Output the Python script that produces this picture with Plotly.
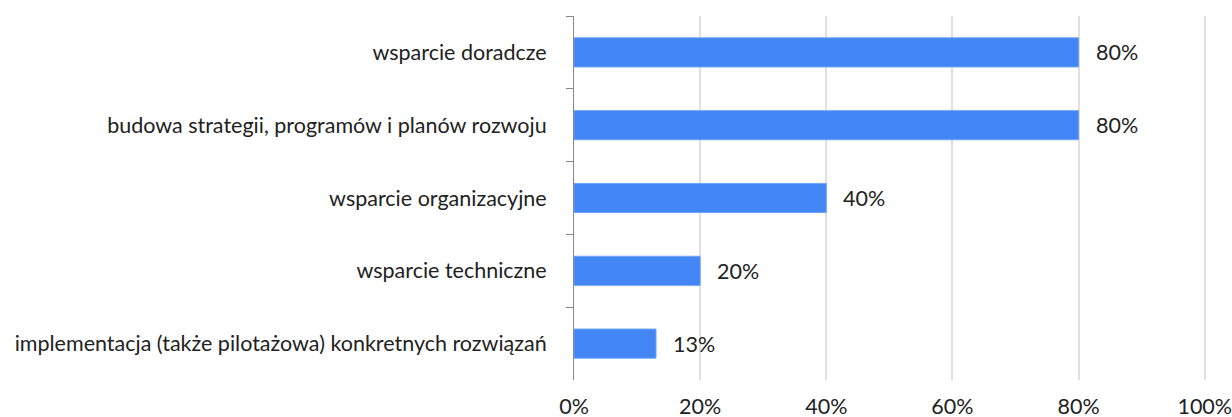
import plotly.graph_objects as go

categories = [
    "wsparcie doradcze",
    "budowa strategii, programów i planów rozwoju",
    "wsparcie organizacyjne",
    "wsparcie techniczne",
    "implementacja (także pilotażowa) konkretnych rozwiązań",
]
values = [0.80, 0.80, 0.40, 0.20, 0.13]
tick_vals = [0, 0.2, 0.4, 0.6, 0.8, 1.0]
tick_text = ["0%", "20%", "40%", "60%", "80%", "100%"]

FONT = "Lato, Noto Sans, sans-serif"
FS = 21.5

fig = go.Figure()
fig.add_trace(go.Bar(
    y=categories,
    x=values,
    orientation="h",
    marker=dict(color="#4285F4", line=dict(color="#6fa3f7", width=1)),
    width=0.4,
    hoverinfo="skip",
))

for c, v in zip(categories, values):
    fig.add_annotation(
        x=v, y=c, text=f"{round(v*100)}%", showarrow=False,
        xanchor="left", xshift=15,
        font=dict(family=FONT, size=FS, color="#222222"),
    )

fig.update_layout(
    width=1232, height=417,
    margin=dict(l=574, r=26, t=16, b=37),
    plot_bgcolor="white", paper_bgcolor="white",
    showlegend=False,
    font=dict(family=FONT, size=FS, color="#222222"),
    xaxis=dict(
        range=[0, 1.002], automargin=False,
        tickvals=tick_vals, ticktext=tick_text,
        showgrid=True, gridcolor="#e0e0e0", gridwidth=1.5,
        zeroline=False, showline=False,
        ticks="", ticklabelstandoff=11, ticklabeloverflow="allow",
        tickfont=dict(family=FONT, size=FS, color="#222222"),
    ),
    yaxis=dict(
        categoryorder="array", categoryarray=categories,
        autorange="reversed", automargin=False,
        showline=True, linecolor="#888888", linewidth=1,
        ticks="outside", tickson="boundaries", ticklen=7, tickcolor="#888888",
        ticklabelstandoff=22,
        showgrid=False, zeroline=False,
        tickfont=dict(family=FONT, size=FS, color="#222222"),
    ),
)

fig.write_html(
    "out.html",
    config={"displayModeBar": False},
    post_script="document.body.style.margin='0';"
                "document.documentElement.style.overflow='hidden';",
)
